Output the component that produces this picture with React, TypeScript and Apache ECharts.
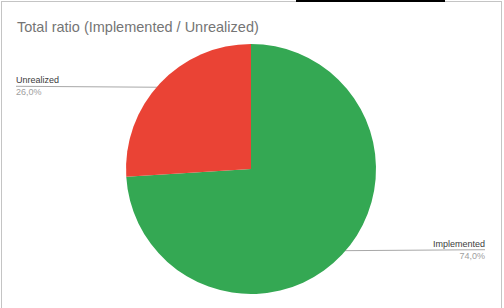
import React, { useEffect, useRef } from "react";
import * as echarts from "echarts";

const categories = ["Implemented", "Unrealized"];
const values = [74, 26];
const colors = ["#34a853", "#ea4335"];
const titleText = "Total ratio (Implemented / Unrealized)";

const CX = 249;
const CY = 167;
const R = 125;

export default function App() {
  const ref = useRef<HTMLDivElement>(null);
  useEffect(() => {
    if (!ref.current) return;
    const chart = echarts.init(ref.current, null, { renderer: "svg" });
    chart.setOption({
      animation: false,
      backgroundColor: "#ffffff",
      title: {
        text: titleText,
        left: 10,
        top: 12,
        textStyle: {
          fontFamily: "Arial, 'Liberation Sans', sans-serif",
          fontSize: 14.5,
          fontWeight: "normal",
          color: "#757575",
        },
      },
      series: [
        {
          type: "pie",
          center: [CX, CY],
          radius: [0, R],
          startAngle: 90,
          clockwise: true,
          avoidLabelOverlap: false,
          itemStyle: { borderWidth: 0 },
          emphasis: { disabled: true },
          data: categories.map((c, i) => ({
            name: c,
            value: values[i],
            itemStyle: { color: colors[i] },
            label: { edgeDistance: i === 0 ? 16 : 14 },
          })),
          label: {
            show: true,
            alignTo: "edge",
            fontFamily: "Arial, 'Liberation Sans', sans-serif",
            formatter: (p: any) =>
              "{n|" + p.name + "}\n{v|" + p.percent.toFixed(1).replace(".", ",") + "%}",
            rich: {
              n: { fontSize: 9, color: "#3c3c3c", lineHeight: 12, fontFamily: "Arial, 'Liberation Sans', sans-serif" },
              v: { fontSize: 9, color: "#a0a0a0", lineHeight: 12, fontFamily: "Arial, 'Liberation Sans', sans-serif" },
            },
          },
          labelLine: {
            show: true,
            length: 0,
            length2: 10,
            lineStyle: { color: "#a8a8a8", width: 1 },
          },
          labelLayout: (params: any) => {
            const pts = params.labelLinePoints;
            if (!pts) return {};
            const p0 = pts[0];
            const k = 0.955;
            const inner = [CX + (p0[0] - CX) * k, CY + (p0[1] - CY) * k];
            const isLeft = p0[0] < CX;
            const rect = params.labelRect;
            const endX = isLeft ? rect.x : rect.x + rect.width;
            return {
              y: inner[1] - 1,
              labelLinePoints: [inner, inner, [endX, inner[1] - 1]],
            };
          },
        },
      ],
    });
    return () => chart.dispose();
  }, []);

  return (
    <div
      style={{
        position: "fixed",
        left: 0,
        top: 0,
        width: 504,
        height: 308,
        background: "#ffffff",
        overflow: "hidden",
      }}
    >
      <div
        style={{
          position: "absolute",
          left: 1,
          top: 1,
          width: 499,
          height: 320,
          border: "1px solid #c4c4c4",
          overflow: "hidden",
        }}
      >
        <div ref={ref} style={{ width: 499, height: 320 }} />
      </div>
      <div
        style={{
          position: "absolute",
          left: 296,
          top: 0,
          width: 149,
          height: 2,
          background: "#000000",
        }}
      />
    </div>
  );
}
